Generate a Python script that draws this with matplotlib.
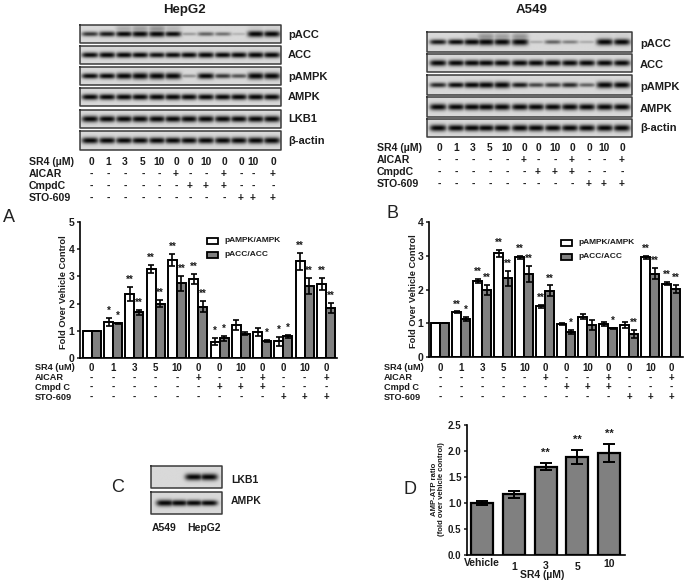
#!/usr/bin/env python3
"""Western blots and fold-change bars for SR4 in HepG2 and A549 cells."""

import numpy as np
import matplotlib
matplotlib.use('Agg')
import matplotlib.pyplot as plt
from matplotlib.transforms import blended_transform_factory

plt.rcParams.update({
    'font.family': ['Liberation Sans', 'DejaVu Sans'],
    'font.weight': 'bold',
    'text.color': '#1c1c1c',
    'axes.labelcolor': '#1c1c1c',
    'xtick.color': '#1c1c1c',
    'ytick.color': '#1c1c1c',
})

W, H = 686, 584

# ── Treatment table ─────────────────────────────────────────────────────
ROW_NAMES_BLOT = ['SR4 (µM)', 'AICAR', 'CmpdC', 'STO-609']
ROW_NAMES_BAR = ['SR4 (uM)', 'AICAR', 'Cmpd C', 'STO-609']
SR4 = ['0', '1', '3', '5', '10', '0', '0', '10', '0', '0', '10', '0']
AICAR = list('-----+--+--+')
CMPD_C = list('------+++---')
STO_609 = list('---------+++')

# ── Bar values ──────────────────────────────────────────────────────────
A_PAMPK = [1, 1.32, 2.35, 3.27, 3.6, 2.9, 0.6, 1.2, 0.95, 0.62, 3.55, 2.72]
A_PAMPK_ERR = [0, .14, .25, .15, .22, .18, .13, .18, .15, .17, .3, .22]
A_PAMPK_SIG = ['', '*', '**', '**', '**', '**', '*', '', '', '*', '**', '**']
A_PACC = [1, 1.28, 1.68, 2.0, 2.75, 1.88, 0.72, 0.9, 0.63, 0.8, 2.65, 1.83]
A_PACC_ERR = [0, .02, .1, .12, .27, .2, .08, .07, .04, .05, .3, .18]
A_PACC_SIG = ['', '*', '**', '**', '**', '**', '*', '', '*', '*', '**', '**']

B_PAMPK = [1, 1.33, 2.25, 3.07, 2.95, 1.5, 0.97, 1.2, 0.97, 0.95, 2.95, 2.17]
B_PAMPK_ERR = [0, .02, .05, .1, .05, .04, .03, .06, .06, .1, .05, .04]
B_PAMPK_SIG = ['', '**', '**', '**', '**', '**', '', '', '', '', '**', '**']
B_PACC = [1, 1.12, 1.98, 2.33, 2.45, 1.97, 0.75, 0.95, 0.85, 0.67, 2.47, 2.02]
B_PACC_ERR = [0, .06, .15, .22, .24, .15, .06, .14, .02, .12, .16, .12]
B_PACC_SIG = ['', '*', '**', '**', '**', '**', '*', '', '*', '**', '**', '**']

D_LABELS = ['Vehicle', '1', '3', '5', '10']
D_RATIO = [1.0, 1.17, 1.7, 1.88, 1.96]
D_ERR = [.03, .07, .06, .13, .17]
D_SIG = ['', '', '**', '**', '**']

# ── Blot band strengths, one per lane ───────────────────────────────────
HEPG2_BLOTS = ['pACC', 'ACC', 'pAMPK', 'AMPK', 'LKB1', 'β-actin']
HEPG2_PACC = [.55, .65, .75, .85, .85, .7, .2, .4, .35, .12, .9, .85]
HEPG2_PACC_SMEAR = [0, 0, .4, .5, .6, .3, 0, 0, 0, 0, .15, .1]
HEPG2_ACC = [.7, .78, .75, .72, .68, .7, .72, .78, .72, .75, .82, .78]
HEPG2_PAMPK = [.7, .75, .9, 1, 1, .95, .25, .8, .55, .45, 1, .95]
HEPG2_AMPK = [.8, .8, .82, .82, .85, .85, .82, .8, .8, .82, .85, .8]
HEPG2_LKB1 = [.95, .92, .93, .95, .95, .92, .95, .95, .92, .9, .93, .93]
HEPG2_ACTIN = [.9, .88, .85, .85, .88, .88, .88, .9, .92, .92, .95, .95]

A549_BLOTS = ['pACC', 'ACC', 'pAMPK', 'AMPK', 'β-actin']
A549_PACC = [.65, .7, .85, 1, .95, 1, .15, .4, .3, .15, .95, .9]
A549_PACC_SMEAR = [0, 0, .1, .6, .5, .6, 0, 0, 0, 0, .1, .1]
A549_ACC = [.88, .85, .85, .85, .85, .85, .85, .85, .85, .85, .85, .85]
A549_PAMPK = [.6, .7, .8, .9, .95, .65, .5, .55, .6, .4, .95, .9]
A549_AMPK = [.95, .92, .92, .95, .95, .92, .92, .9, .95, .92, .95, .9]
A549_ACTIN = [1, .95, .95, .95, .95, .98, .98, .95, .95, .95, 1, 1]

C_BLOTS = ['LKB1', 'AMPK']
C_LANES = ['A549', 'HepG2']
C_LKB1 = [0, 0, 1, 1]
C_AMPK = [.95, .85, .8, .75]

# Lane centres read from the blots, in picture pixels
HEPG2_LANE_X = [90, 107, 124, 140, 157, 173, 189, 206, 223, 239, 256, 272]
A549_LANE_X = [438, 456, 472, 486, 502, 520, 536, 553, 570, 587, 605, 622]
C_LANE_X = [165, 179, 194, 209]
HEPG2_COL_X = [91, 108, 125, 143, 159, 176, 190, 206, 224, 241, 253, 273]
A549_COL_X = [439, 456, 473, 490, 507, 524, 538, 555, 572, 589, 604, 622]


def px_axes(fig, left, top, right, bottom):
    return fig.add_axes([left / W, 1 - bottom / H,
                         (right - left) / W, (bottom - top) / H])


def draw_blot(ov, x0, x1, y0, y1, lanes, strengths, smear=None, lane_w=8.5):
    """Render one blot strip as a grey image, with a dark band per lane."""
    xs = np.arange(x0, x1 + 0.5, 0.5)
    ys = np.arange(y0, y1 + 0.5, 0.5)
    xx, yy = np.meshgrid(xs, ys)
    yc = (y0 + y1) / 2
    dark = np.zeros_like(xx)
    for i, (lx, s) in enumerate(zip(lanes, strengths)):
        profile = np.exp(-((xx - lx) / lane_w) ** 4)
        th = 1.2 + 2.3 * s
        dark = np.maximum(dark, min(1, s * 1.4) * profile
                          * np.exp(-((yy - yc) / th) ** 2))
        if smear is not None and smear[i] > 0:
            up = np.exp(-((yy - (yc - 5)) / 4.5) ** 2)
            dark = np.maximum(dark, 0.55 * smear[i] * profile * up)
    img = 0.85 - 0.83 * dark
    ov.imshow(img, extent=[x0, x1, y1, y0], cmap='gray', vmin=0, vmax=1,
              interpolation='bilinear', aspect='auto', zorder=1)
    ov.plot([x0, x1, x1, x0, x0], [y0, y0, y1, y1, y0], color='#3a3a3a',
            lw=1.1, zorder=2)


def fold_panel(fig, ov, box, ymax, first_px, step_px, white, white_err,
               white_sig, grey, grey_err, grey_sig, legend_x, legend_y):
    left, top, right, bottom = box
    ax = px_axes(fig, left, top, right, bottom)
    ax.patch.set_alpha(0)
    x = np.arange(len(white))
    bw = 9 / step_px
    ebar = dict(ecolor='black', elinewidth=1.2, capsize=2.3, capthick=1.2)
    ax.bar(x - bw / 2, white, bw, yerr=white_err, color='white',
           edgecolor='black', linewidth=1.4, error_kw=ebar)
    ax.bar(x + bw / 2, grey, bw, yerr=grey_err, color='#808080',
           edgecolor='black', linewidth=1.4, error_kw=ebar)
    for series, errs, sigs, dx in [(white, white_err, white_sig, -bw / 2),
                                   (grey, grey_err, grey_sig, bw / 2)]:
        for xi, v, e, s in zip(x, series, errs, sigs):
            if s:
                ax.annotate(s, (xi + dx, v + e), xytext=(0, 1.5),
                            textcoords='offset points', ha='center',
                            va='bottom', fontsize=7)
    ax.set_xlim((left - first_px) / step_px, (right - first_px) / step_px)
    ax.set_ylim(0, ymax)
    ax.set_yticks(range(ymax + 1))
    ax.set_xticks([])
    ax.tick_params(axis='y', length=2.5, width=1.1, pad=1.5, labelsize=7.5)
    for side in ['top', 'right']:
        ax.spines[side].set_visible(False)
    for side in ['left', 'bottom']:
        ax.spines[side].set_linewidth(1.2)
    ov.text(left - 16, (top + bottom) / 2 + 2, 'Fold Over Vehicle Control',
            rotation=90, ha='center', va='center', fontsize=6.7)

    # Treatment table lines up with the bar groups
    trans = blended_transform_factory(ax.transData, ov.transData)
    for name, row, y in zip(ROW_NAMES_BAR, [SR4, AICAR, CMPD_C, STO_609],
                            [368, 377.5, 387, 397]):
        ov.text(left - 45, y, name, ha='left', va='center', fontsize=6.6)
        for xi, val in zip(x, row):
            ax.text(xi, y, val, transform=trans, ha='center', va='center',
                    fontsize=7, clip_on=False)

    # Legend swatches
    for label, color, y in [('pAMPK/AMPK', 'white', legend_y),
                            ('pACC/ACC', '#808080', legend_y + 14)]:
        ov.add_patch(plt.Rectangle((legend_x, y - 3), 11, 6, fc=color,
                                   ec='black', lw=1.3, zorder=3))
        ov.text(legend_x + 17, y, label, ha='left', va='center', fontsize=6)
    return ax


def blot_table(ov, label_x, col_x, rows_y):
    for name, row, y in zip(ROW_NAMES_BLOT, [SR4, AICAR, CMPD_C, STO_609], rows_y):
        ov.text(label_x, y, name, ha='left', va='center', fontsize=7.6)
        for cx, val in zip(col_x, row):
            ov.text(cx, y, val, ha='center', va='center', fontsize=7.4)


def main():
    fig = plt.figure(figsize=(W / 100, H / 100), dpi=100)

    # Overlay in picture pixels for blots and free text
    ov = fig.add_axes([0, 0, 1, 1])
    ov.set_xlim(0, W)
    ov.set_ylim(H, 0)
    ov.axis('off')

    ov.text(184, 10, 'HepG2', ha='center', va='center', fontsize=9.5)
    ov.text(532, 10, 'A549', ha='center', va='center', fontsize=9.5)

    hep_rows = [(25, 43), (46, 64), (67, 85), (88, 106), (110, 128), (131, 150)]
    hep_vals = [HEPG2_PACC, HEPG2_ACC, HEPG2_PAMPK, HEPG2_AMPK, HEPG2_LKB1, HEPG2_ACTIN]
    for name, (y0, y1), vals in zip(HEPG2_BLOTS, hep_rows, hep_vals):
        smear = HEPG2_PACC_SMEAR if name == 'pACC' else None
        draw_blot(ov, 80, 281, y0, y1, HEPG2_LANE_X, vals, smear)
        ov.text(288, (y0 + y1) / 2 + 0.5, name, ha='left', va='center', fontsize=8)
    blot_table(ov, 29, HEPG2_COL_X, [162, 174, 186, 198])

    a549_rows = [(32, 52), (54, 72), (75, 95), (97, 117), (119, 137)]
    a549_vals = [A549_PACC, A549_ACC, A549_PAMPK, A549_AMPK, A549_ACTIN]
    a549_label_y = [44, 65, 87, 109, 128]
    for name, (y0, y1), vals, ly in zip(A549_BLOTS, a549_rows, a549_vals, a549_label_y):
        smear = A549_PACC_SMEAR if name == 'pACC' else None
        draw_blot(ov, 427, 632, y0, y1, A549_LANE_X, vals, smear)
        ov.text(640, ly, name, ha='left', va='center', fontsize=8)
    blot_table(ov, 377, A549_COL_X, [148, 160, 172, 184])

    # Panels A and B
    fold_panel(fig, ov, (80, 222, 337, 358), 5, 91.7, 21.3, A_PAMPK, A_PAMPK_ERR,
               A_PAMPK_SIG, A_PACC, A_PACC_ERR, A_PACC_SIG, 207, 241)
    fold_panel(fig, ov, (429, 222, 683, 357), 4, 440.3, 21.0, B_PAMPK, B_PAMPK_ERR,
               B_PAMPK_SIG, B_PACC, B_PACC_ERR, B_PACC_SIG, 561, 243)

    # Panel letters
    letter = dict(ha='center', va='center', fontsize=13, fontweight='normal',
                  color='#222222')
    ov.text(9, 217, 'A', **letter)
    ov.text(392, 214, 'B', **letter)
    ov.text(118, 487, 'C', **letter)
    ov.text(410, 490, 'D', **letter)

    # Panel C
    for name, (y0, y1), vals, ly in zip(C_BLOTS, [(466, 488), (492, 514)],
                                        [C_LKB1, C_AMPK], [480, 501]):
        draw_blot(ov, 151, 222, y0, y1, C_LANE_X, vals, lane_w=9)
        ov.text(231, ly, name, ha='left', va='center', fontsize=7.5)
    ov.text(152, 528, C_LANES[0], ha='left', va='center', fontsize=7.5)
    ov.text(187, 528, C_LANES[1], ha='left', va='center', fontsize=7.5)

    # Panel D
    ax = px_axes(fig, 467, 425, 625, 555)
    ax.patch.set_alpha(0)
    x = np.arange(len(D_RATIO))
    ax.bar(x, D_RATIO, 22 / 31.7, yerr=D_ERR, color='#808080', edgecolor='black',
           linewidth=1.6, error_kw=dict(ecolor='black', elinewidth=1.4,
                                        capsize=4.5, capthick=1.4))
    for xi, v, e, s in zip(x, D_RATIO, D_ERR, D_SIG):
        if s:
            ax.annotate(s, (xi, v + e), xytext=(0, 4), textcoords='offset points',
                        ha='center', va='bottom', fontsize=8)
    ax.set_xlim((467 - 482.3) / 31.7, (625 - 482.3) / 31.7)
    ax.set_ylim(0, 2.5)
    ax.set_yticks([0, 0.5, 1, 1.5, 2, 2.5])
    ax.set_yticklabels(['0.0', '0.5', '1.0', '1.5', '2.0', '2.5'])
    ax.set_xticks([])
    ax.tick_params(axis='y', length=2.5, width=1.1, pad=1.5, labelsize=7)
    for side in ['top', 'right']:
        ax.spines[side].set_visible(False)
    for side in ['left', 'bottom']:
        ax.spines[side].set_linewidth(1.2)
    trans = blended_transform_factory(ax.transData, ov.transData)
    for xi, lab, y in zip(x, D_LABELS, [563, 567, 566, 567, 564]):
        ax.text(xi, y, lab, transform=trans, ha='center', va='center',
                fontsize=7.5, clip_on=False)
    ov.text(542, 575, 'SR4 (µM)', ha='center', va='center', fontsize=7.5)
    ov.text(438, 489, 'AMP-ATP ratio\n(fold over vehicle control)', rotation=90,
            ha='center', va='center', fontsize=5.6, linespacing=1.1)

    fig.savefig('out.png', dpi=100, facecolor='white')
    plt.close(fig)


if __name__ == '__main__':
    main()
